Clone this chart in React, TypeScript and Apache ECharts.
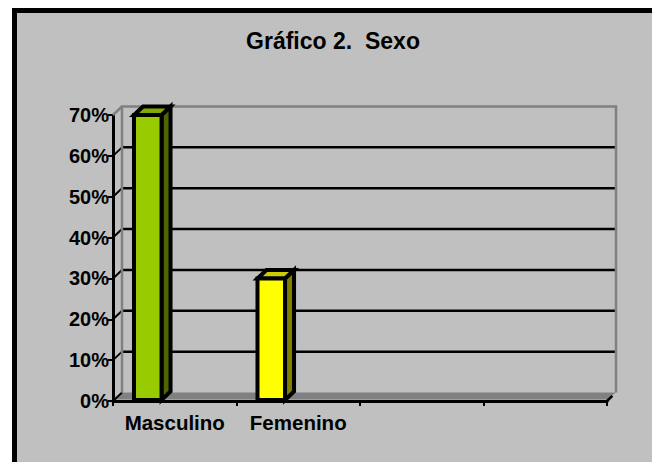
import React, { useEffect, useRef } from "react";
import * as echarts from "echarts";

const titleText = "Gráfico 2.  Sexo";
const categories = ["Masculino", "Femenino", "", ""];
const values = [0.7, 0.3];
const yTicks = [0, 0.1, 0.2, 0.3, 0.4, 0.5, 0.6, 0.7];
const yTickLabels = ["0%", "10%", "20%", "30%", "40%", "50%", "60%", "70%"];

const barStyles = [
  { front: "#99CC00", side: "#4D6600", top: "#80AA00" },
  { front: "#FFFF00", side: "#808000", top: "#CCCC00" },
];

const DX = 9;
const DY = 8.5;
const FONT = '"Liberation Sans", Arial, Helvetica, sans-serif';

export default function App() {
  const ref = useRef<HTMLDivElement>(null);
  useEffect(() => {
    if (!ref.current) return;
    const chart = echarts.init(ref.current, undefined, { renderer: "svg" });
    const option: any = {
      animation: false,
      backgroundColor: "#FFFFFF",
      graphic: [
        {
          type: "rect",
          z: -10,
          shape: { x: 14.5, y: 10.5, width: 700, height: 500 },
          style: { fill: "#C0C0C0", stroke: "#000000", lineWidth: 5 },
        },
        {
          type: "text",
          z: 10,
          x: 333,
          y: 41,
          style: {
            text: titleText,
            font: `bold 23px ${FONT}`,
            fill: "#000000",
            align: "center",
            verticalAlign: "middle",
          },
        },
      ],
      grid: { left: 113, right: 45, top: 115, bottom: 61, containLabel: false },
      xAxis: {
        type: "category",
        data: categories,
        boundaryGap: true,
        axisLine: { show: true, lineStyle: { color: "#000000", width: 3 } },
        axisTick: { show: true, length: 5, interval: 0, alignWithLabel: false, lineStyle: { color: "#000000", width: 2 } },
        axisLabel: { interval: 0, margin: 11, color: "#000000", fontWeight: "bold", fontSize: 20.5, fontFamily: FONT },
        splitLine: { show: false },
      },
      yAxis: {
        type: "value",
        min: 0,
        max: 0.7,
        interval: 0.1,
        axisLine: { show: true, lineStyle: { color: "#000000", width: 3 } },
        axisTick: { show: true, length: 5, lineStyle: { color: "#000000", width: 2 } },
        axisLabel: {
          margin: 4,
          color: "#000000",
          fontWeight: "bold",
          fontSize: 20,
          fontFamily: FONT,
          formatter: (v: number, i: number) => yTickLabels[i] ?? "",
        },
        splitLine: { show: false },
      },
      series: [
        {
          type: "custom",
          z: 1,
          clip: false,
          silent: true,
          encode: { x: 0, y: 1 },
          data: yTicks.map((v) => [0, v]),
          renderItem: (params: any, api: any) => {
            const v = api.value(1);
            const cs = params.coordSys;
            const L = cs.x;
            const R = cs.x + cs.width;
            const y = api.coord([0, v])[1];
            const y0 = api.coord([0, 0])[1];
            const children: any[] = [];
            if (v === 0) {
              children.push({
                type: "polygon",
                shape: { points: [[L, y - 1.5], [R, y - 1.5], [R + DX, y - DY], [L + DX, y - DY]] },
                style: { fill: "#808080", stroke: null },
              });
              children.push({
                type: "line",
                shape: { x1: R, y1: y, x2: R + DX * 0.6, y2: y - DY * 0.6 },
                style: { stroke: "#000000", lineWidth: 2.5 },
              });
              children.push({
                type: "line",
                shape: { x1: L, y1: y, x2: L + DX, y2: y - DY },
                style: { stroke: "#000000", lineWidth: 2 },
              });
            } else if (v === yTicks[yTicks.length - 1]) {
              children.push({
                type: "polyline",
                shape: { points: [[L + DX, y0 - DY], [L + DX, y - DY], [R + DX, y - DY], [R + DX, y0 - DY]] },
                style: { stroke: "#808080", lineWidth: 2.5, fill: null },
              });
              children.push({
                type: "line",
                shape: { x1: L, y1: y, x2: L + DX, y2: y - DY },
                style: { stroke: "#808080", lineWidth: 2.5 },
              });
            } else {
              children.push({
                type: "line",
                shape: { x1: L + DX, y1: y - DY, x2: R + DX, y2: y - DY },
                style: { stroke: "#000000", lineWidth: 2.5 },
              });
              children.push({
                type: "line",
                shape: { x1: L, y1: y, x2: L + DX, y2: y - DY },
                style: { stroke: "#000000", lineWidth: 2 },
              });
            }
            return { type: "group", children };
          },
        },
        {
          type: "custom",
          z: 5,
          clip: false,
          silent: true,
          encode: { x: 0, y: 1 },
          data: values.map((v, i) => [i, v]),
          renderItem: (params: any, api: any) => {
            const i = api.value(0);
            const v = api.value(1);
            const top = api.coord([i, v]);
            const base = api.coord([i, 0]);
            const bw = api.size([1, 0])[0];
            const L = top[0] - 0.33 * bw;
            const W = 0.223 * bw;
            const R = L + W;
            const T = top[1];
            const B = base[1] - 1;
            const c = barStyles[i];
            const stroke = { stroke: "#000000", lineWidth: 4, lineJoin: "miter" };
            return {
              type: "group",
              children: [
                {
                  type: "polygon",
                  shape: { points: [[R, T], [R + DX, T - DY], [R + DX, B - DY], [R, B]] },
                  style: { fill: c.side, ...stroke },
                },
                {
                  type: "polygon",
                  shape: { points: [[L, T], [R, T], [R + DX, T - DY], [L + DX, T - DY]] },
                  style: { fill: c.top, ...stroke },
                },
                {
                  type: "rect",
                  shape: { x: L, y: T, width: W, height: B - T },
                  style: { fill: c.front, ...stroke },
                },
              ],
            };
          },
        },
      ],
    };
    chart.setOption(option);
    return () => chart.dispose();
  }, []);
  return (
    <div
      ref={ref}
      style={{ position: "fixed", left: 0, top: 0, width: 652, height: 462 }}
    />
  );
}
